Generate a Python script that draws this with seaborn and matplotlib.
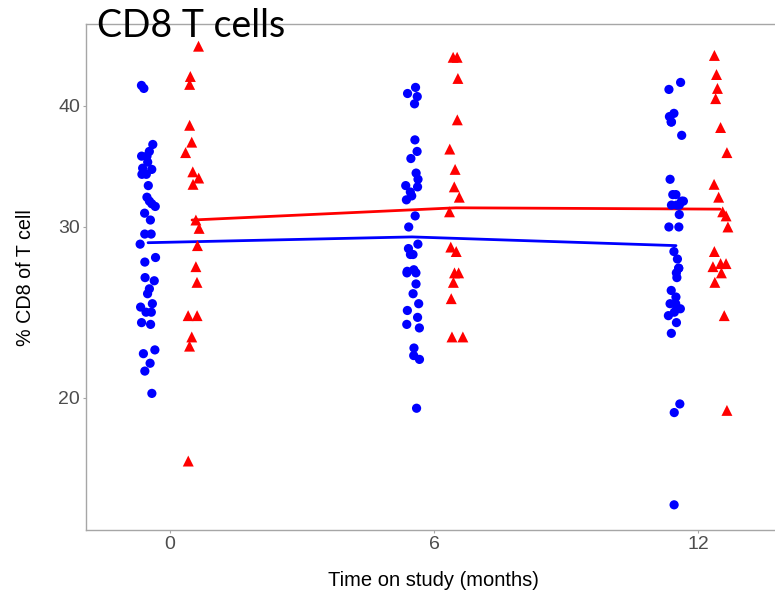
import numpy as np
import pandas as pd
import matplotlib
matplotlib.use("Agg")
import matplotlib.pyplot as plt
import seaborn as sns
from matplotlib.ticker import FixedLocator, NullLocator, FixedFormatter

# ---- data ----
months = [0, 6, 12]
blue_0 = [42.0, 41.7, 36.5, 35.9, 35.5, 35.5, 35.0, 34.5, 34.4, 34.0, 34.0, 33.1, 32.2, 31.9,
          31.7, 31.5, 31.0, 30.5, 29.5, 29.5, 28.8, 27.9, 27.6, 26.6, 26.4, 25.9, 25.6, 25.0,
          24.8, 24.5, 24.5, 23.9, 23.8, 22.4, 22.2, 21.7, 21.3, 20.2]
blue_6 = [41.8, 41.2, 40.9, 40.2, 36.9, 35.9, 35.3, 34.1, 33.6, 33.1, 33.0, 32.6, 32.3, 32.0,
          30.8, 30.0, 28.8, 28.5, 28.1, 28.1, 27.1, 27.0, 26.9, 26.9, 26.2, 25.6, 25.0, 24.6,
          24.2, 23.8, 23.6, 22.5, 22.1, 21.9, 19.5]
blue_12 = [42.3, 41.6, 39.3, 39.0, 38.5, 38.5, 37.3, 33.6, 32.4, 32.4, 31.9, 31.9, 31.6, 31.6,
           31.6, 30.9, 30.0, 30.0, 28.3, 27.8, 27.2, 27.2, 26.9, 26.6, 25.8, 25.4, 25.0, 25.0,
           24.7, 24.7, 24.5, 24.3, 23.9, 23.3, 19.7, 19.3, 15.5]
red_0 = [46.1, 42.9, 42.1, 38.2, 36.7, 35.8, 34.2, 33.7, 33.2, 30.5, 29.9, 28.7, 27.3, 26.3,
         24.3, 24.3, 23.1, 22.6, 17.2]
red_6 = [44.9, 44.9, 42.7, 38.7, 36.1, 34.4, 33.0, 32.2, 31.1, 28.6, 28.3, 26.9, 26.9, 26.3,
         25.3, 23.1, 23.1]
red_12 = [45.1, 43.1, 41.7, 40.7, 38.0, 35.8, 33.2, 32.2, 31.1, 30.8, 30.0, 28.3, 27.5, 27.5,
          27.3, 26.9, 26.3, 24.3, 19.4]
blue_line = [28.9, 29.3, 28.7]
red_line = [30.5, 31.4, 31.3]
y_ticks = [20, 30, 40]
x_ticks = [0, 6, 12]

groups = {"blue": [blue_0, blue_6, blue_12], "red": [red_0, red_6, red_12]}
dodge = {"blue": -0.5, "red": 0.5}
colors = {"blue": "#0000FF", "red": "#FF0000"}

rng = np.random.default_rng(3)
rows = []
for g, series in groups.items():
    for m, vals in zip(months, series):
        for v in vals:
            rows.append({"group": g, "time": m, "value": v,
                         "xpos": m + dodge[g] + rng.uniform(-0.18, 0.18)})
df = pd.DataFrame(rows)

lines = pd.DataFrame({
    "group": ["blue"] * 3 + ["red"] * 3,
    "xpos": [m + dodge["blue"] for m in months] + [m + dodge["red"] for m in months],
    "value": blue_line + red_line,
})

sns.set_style("white")
plt.rcParams["font.family"] = ["Liberation Sans", "DejaVu Sans"]

fig = plt.figure(figsize=(7.75, 5.98), dpi=100)
ax = fig.add_axes([86 / 775, 68 / 598, 1 - 86 / 775, (530 - 24) / 598])

sns.scatterplot(data=df[df.group == "blue"], x="xpos", y="value", color=colors["blue"],
                marker="o", s=44, edgecolor="none", ax=ax, legend=False, zorder=3)
sns.scatterplot(data=df[df.group == "red"], x="xpos", y="value", color=colors["red"],
                marker="^", s=62, edgecolor="none", ax=ax, legend=False, zorder=3)
for g in ["blue", "red"]:
    sns.lineplot(data=lines[lines.group == g], x="xpos", y="value", color=colors[g],
                 lw=2.0, ax=ax, legend=False, zorder=2)

ax.set_yscale("log")
ax.set_ylim(14.6, 48.6)
ax.set_xlim(-1.91, 13.75)
ax.yaxis.set_major_locator(FixedLocator(y_ticks))
ax.yaxis.set_major_formatter(FixedFormatter([str(t) for t in y_ticks]))
ax.yaxis.set_minor_locator(NullLocator())
ax.set_xticks(x_ticks)
ax.set_xticklabels([str(t) for t in x_ticks])

for side in ["left", "bottom", "top"]:
    ax.spines[side].set_visible(True)
    ax.spines[side].set_color("#A6A6A6")
    ax.spines[side].set_linewidth(1.0)
ax.spines["right"].set_visible(False)
ax.tick_params(axis="both", which="major", direction="out", length=2.2, width=0.8,
               color="#A6A6A6", labelcolor="#4D4D4D", labelsize=14, pad=2,
               left=True, bottom=True)

ax.set_xlabel("")
ax.set_ylabel("")
fig.text(433 / 775, 1 - 581 / 598, "Time on study (months)", ha="center", va="center",
         fontsize=14.5, color="black")
fig.text(26 / 775, 1 - 278 / 598, "% CD8 of T cell", ha="center", va="center",
         rotation=90, fontsize=14.2, color="black")
fig.text(97 / 775, 1 - 37 / 598, "CD8 T cells", ha="left", va="baseline",
         fontsize=27, color="black", family=["Lato", "DejaVu Sans"])

fig.savefig("out.png", dpi=100)
